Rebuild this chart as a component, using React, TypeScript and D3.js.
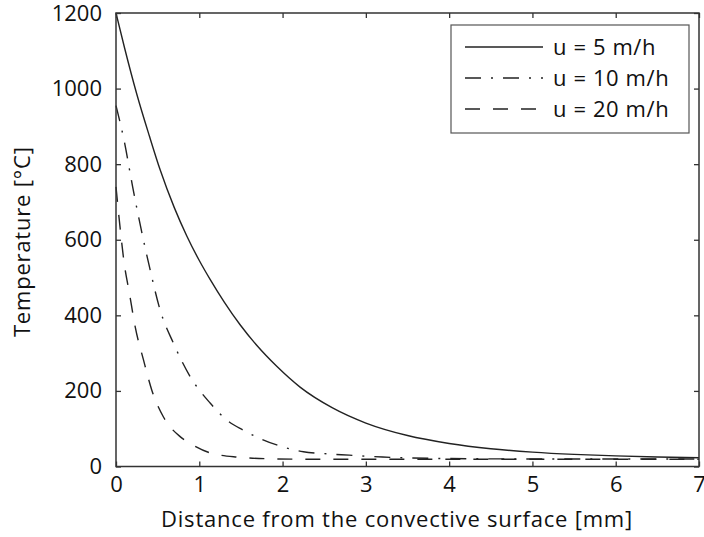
import * as React from "react";
import { useRef, useEffect } from "react";
import * as d3 from "d3";

// distance [mm] and temperature [°C]
const xSolid = [0, 0.1, 0.25, 0.4, 0.53, 0.7, 0.85, 1.0, 1.13, 1.3, 1.49, 1.7, 1.93, 2.21, 2.6, 3.0, 3.5, 4.0, 4.5, 5.0, 5.5, 6.0, 6.5, 7.0];
const tSolid = [1200, 1110, 985, 875, 785, 685, 610, 545, 495, 435, 375, 318, 265, 210, 155, 115, 82, 61, 47, 38, 32, 28, 25, 23];

const xDashDot = [0, 0.1, 0.2, 0.3, 0.4, 0.53, 0.69, 0.89, 1.13, 1.33, 1.53, 1.73, 1.93, 2.25, 2.5, 2.8, 3.2, 3.5, 4.0, 5.0, 6.0, 7.0];
const tDashDot = [955, 860, 740, 630, 530, 414, 326, 238, 168, 123, 96, 74, 57, 39, 34, 30, 25, 23, 21, 20, 20, 20];

const xDashed = [0, 0.05, 0.1, 0.16, 0.23, 0.33, 0.43, 0.57, 0.77, 0.89, 1.13, 1.45, 1.93, 2.5, 3.0, 4.0, 5.0, 6.0, 7.0];
const tDashed = [740, 630, 535, 460, 370, 282, 202, 131, 79, 61, 36, 25, 20, 19, 19, 19, 19, 19, 19];

const xTicks = [0, 1, 2, 3, 4, 5, 6, 7];
const yTicks = [0, 200, 400, 600, 800, 1000, 1200];

const legendLabels = ["u = 5 m/h", "u = 10 m/h", "u = 20 m/h"];
const dashes = ["none", "16,10,2,10", "15,13"];

const FONT = "'Open Sans', sans-serif";
const INK = "#222";

export const TempChart = () => {
  const svgRef = useRef<SVGSVGElement>(null);

  useEffect(() => {
    const W = 704;
    const H = 537;
    const margin = { top: 13, right: 5, bottom: 70.5, left: 116 };
    const width = W - margin.left - margin.right;
    const height = H - margin.top - margin.bottom;

    const svg = d3.select(svgRef.current).attr("width", W).attr("height", H);
    svg.selectAll("*").remove();

    const g = svg
      .append("g")
      .attr("transform", `translate(${margin.left},${margin.top})`);

    const xScale = d3.scaleLinear().domain([0, 7]).range([0, width]);
    const yScale = d3.scaleLinear().domain([0, 1200]).range([height, 0]);

    const series = [
      xSolid.map((x, i) => [x, tSolid[i]]),
      xDashDot.map((x, i) => [x, tDashDot[i]]),
      xDashed.map((x, i) => [x, tDashed[i]]),
    ];

    const line = d3
      .line<number[]>()
      .x((d) => xScale(d[0]))
      .y((d) => yScale(d[1]))
      .curve(d3.curveMonotoneX);

    series.forEach((s, i) => {
      g.append("path")
        .datum(s)
        .attr("fill", "none")
        .attr("stroke", INK)
        .attr("stroke-width", 1.4)
        .attr("stroke-dasharray", dashes[i])
        .attr("d", line);
    });

    // axes, ticks inward on all four sides
    const tickLen = 5;
    const axisStyle = (sel: any) => {
      sel.select(".domain").remove();
      sel.selectAll("line").attr("stroke", "#333").attr("stroke-width", 1.3);
      sel
        .selectAll("text")
        .attr("font-family", FONT)
        .attr("font-size", 22)
        .attr("fill", "#111");
    };

    g.append("g")
      .attr("transform", `translate(0,${height})`)
      .call(d3.axisBottom(xScale).tickValues(xTicks).tickSize(-tickLen).tickPadding(10).tickFormat(d3.format("d")))
      .call(axisStyle);
    g.append("g")
      .call(d3.axisTop(xScale).tickValues(xTicks).tickSize(-tickLen).tickFormat(() => ""))
      .call(axisStyle);
    g.append("g")
      .call(d3.axisLeft(yScale).tickValues(yTicks).tickSize(-tickLen).tickPadding(14).tickFormat(d3.format("d")))
      .call(axisStyle);
    g.append("g")
      .attr("transform", `translate(${width},0)`)
      .call(d3.axisRight(yScale).tickValues(yTicks).tickSize(-tickLen).tickFormat(() => ""))
      .call(axisStyle);

    g.append("rect")
      .attr("width", width)
      .attr("height", height)
      .attr("fill", "none")
      .attr("stroke", "#333")
      .attr("stroke-width", 1.5);

    // axis titles
    svg
      .append("text")
      .attr("x", 397)
      .attr("y", 527)
      .attr("text-anchor", "middle")
      .attr("font-family", FONT)
      .attr("font-size", 22)
      .attr("letter-spacing", 0.8)
      .attr("fill", "#111")
      .text("Distance from the convective surface [mm]");
    svg
      .append("text")
      .attr("transform", `translate(30,${margin.top + height / 2 + 2}) rotate(-90)`)
      .attr("text-anchor", "middle")
      .attr("font-family", FONT)
      .attr("font-size", 22)
      .attr("letter-spacing", 0.8)
      .attr("fill", "#111")
      .text("Temperature [°C]");

    // legend
    const lg = svg.append("g").attr("transform", "translate(451,25)");
    lg.append("rect")
      .attr("width", 238)
      .attr("height", 108)
      .attr("fill", "white")
      .attr("stroke", "#555")
      .attr("stroke-width", 1.2);
    legendLabels.forEach((label, i) => {
      const y = 22 + i * 31;
      lg.append("line")
        .attr("x1", 14)
        .attr("x2", 92)
        .attr("y1", y)
        .attr("y2", y)
        .attr("stroke", INK)
        .attr("stroke-width", 1.4)
        .attr("stroke-dasharray", dashes[i]);
      lg.append("text")
        .attr("x", 102)
        .attr("y", y)
        .attr("dy", "0.35em")
        .attr("font-family", FONT)
        .attr("font-size", 22)
        .attr("letter-spacing", 0.6)
        .attr("fill", "#111")
        .text(label);
    });
  }, []);

  return <svg ref={svgRef} style={{ position: "absolute", left: 0, top: 0 }}></svg>;
};

export default function App() {
  return <TempChart />;
}
